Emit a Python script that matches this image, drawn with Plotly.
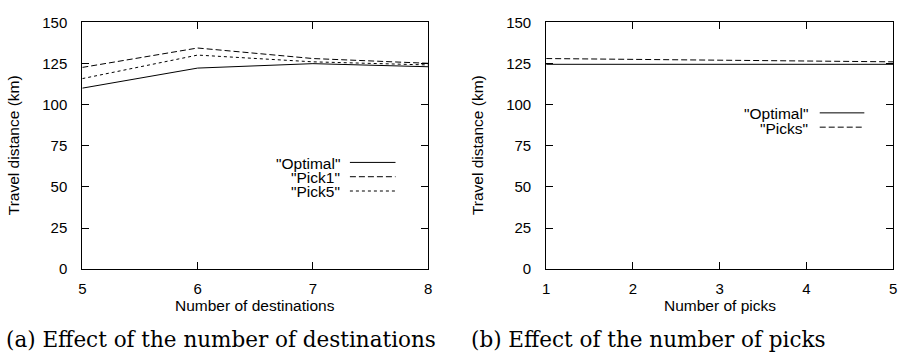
import plotly.graph_objects as go

# ---- data ----
dest_x = [5, 6, 7, 8]
dest_optimal = [110, 122.2, 124.9, 123]
dest_pick1 = [122.6, 134.4, 128, 125.1]
dest_pick5 = [115.8, 130.1, 126, 124.1]

picks_x = [1, 2, 3, 4, 5]
picks_optimal = [124.5, 124.5, 124.5, 124.5, 124.5]
picks_picks = [128, 127.5, 127, 126.5, 126]

y_ticks = [0, 25, 50, 75, 100, 125, 150]
left_names = ['"Optimal"', '"Pick1"', '"Pick5"']
right_names = ['"Optimal"', '"Picks"']
dashes = ["solid", "6px,3px", "3px,3px"]

W, H = 906, 361
FONT = "Liberation Sans, Arial, sans-serif"

fig = go.Figure()

left_series = [dest_optimal, dest_pick1, dest_pick5]
for name, ys, d in zip(left_names, left_series, dashes):
    fig.add_trace(go.Scatter(x=dest_x, y=ys, mode="lines", name=name,
                             line=dict(color="black", width=1, dash=d),
                             xaxis="x", yaxis="y", showlegend=False))
right_series = [picks_optimal, picks_picks]
for name, ys, d in zip(right_names, right_series, dashes):
    fig.add_trace(go.Scatter(x=picks_x, y=ys, mode="lines", name=name,
                             line=dict(color="black", width=1, dash=d),
                             xaxis="x2", yaxis="y2", showlegend=False))

def px(x):
    return x / W

def py(y):
    return 1 - y / H

top, bottom = 14, 273
ydom = [py(bottom), py(top)]

axis_common = dict(showline=True, linecolor="black", linewidth=1, mirror="ticks",
                   ticks="inside", ticklen=7, tickcolor="black", tickwidth=1,
                   showgrid=False, zeroline=False,
                   tickfont=dict(family=FONT, size=15, color="black"))

fig.update_layout(
    width=W, height=H, margin=dict(l=0, r=0, t=0, b=0),
    paper_bgcolor="white", plot_bgcolor="white",
    xaxis=dict(domain=[px(79), px(428)], range=[5, 8], tickvals=dest_x,
               anchor="y", ticklabelstandoff=6, **axis_common),
    yaxis=dict(domain=ydom, range=[0, 150], tickvals=y_ticks, anchor="x",
               ticklabelstandoff=11, **axis_common),
    xaxis2=dict(domain=[px(547), px(897)], range=[1, 5], tickvals=picks_x,
                anchor="y2", ticklabelstandoff=6, **axis_common),
    yaxis2=dict(domain=ydom, range=[0, 150], tickvals=y_ticks, anchor="x2",
                ticklabelstandoff=11, **axis_common),
)

ann = []
shapes = []
txt = dict(family=FONT, size=15.5, color="black")
# axis titles
ann.append(dict(text="Number of destinations", x=px(253), y=py(311), xref="paper", yref="paper",
                showarrow=False, font=txt, xanchor="center", yanchor="middle"))
ann.append(dict(text="Number of picks", x=px(722), y=py(311), xref="paper", yref="paper",
                showarrow=False, font=txt, xanchor="center", yanchor="middle"))
for xc in (9, 477):
    ann.append(dict(text="Travel distance (km)", x=px(xc), y=py(143), xref="paper", yref="paper",
                    showarrow=False, font=txt, textangle=-90, xanchor="center", yanchor="middle"))
# captions
cap = dict(family="DejaVu Serif, Liberation Serif, serif", size=21.5, color="black")
ann.append(dict(text="(a) Effect of the number of destinations", x=0, y=py(347), xref="paper",
                yref="paper", showarrow=False, font=cap, xanchor="left", yanchor="middle"))
ann.append(dict(text="(b) Effect of the number of picks", x=px(469), y=py(347), xref="paper",
                yref="paper", showarrow=False, font=cap, xanchor="left", yanchor="middle"))

# legends (gnuplot style: text then line sample)
def legend(names, text_right, line_x0, line_x1, y0, dy):
    for i, n in enumerate(names):
        yy = y0 + i * dy
        ann.append(dict(text=n, x=px(text_right), y=py(yy + 1), xref="paper", yref="paper",
                        showarrow=False, font=txt, xanchor="right", yanchor="middle"))
        shapes.append(dict(type="line", xref="paper", yref="paper",
                           x0=px(line_x0), x1=px(line_x1), y0=py(yy), y1=py(yy),
                           line=dict(color="black", width=1, dash=dashes[i])))

legend(left_names, 341, 349, 395, 161, 15)
legend(right_names, 813, 823, 868, 109, 15)

fig.update_layout(annotations=ann, shapes=shapes)
fig.write_html("out.html")
